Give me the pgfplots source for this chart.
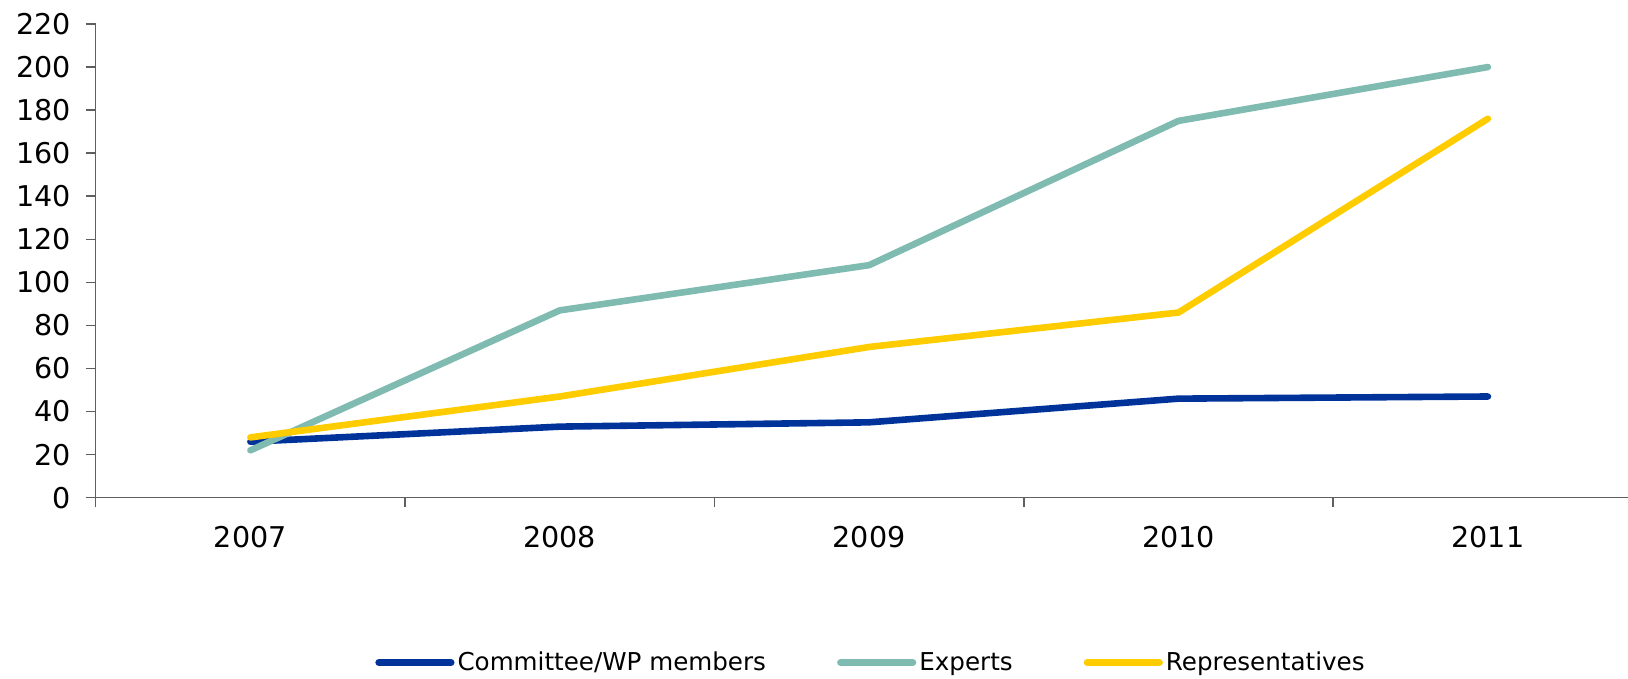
\documentclass[border=0pt]{standalone}
\usepackage{fontspec}
\setmainfont{DejaVu Sans}
\usepackage{pgfplots}
\pgfplotsset{compat=1.18}
\definecolor{cblue}{RGB}{0,51,153}
\definecolor{cteal}{RGB}{127,187,176}
\definecolor{cyellow}{RGB}{255,204,0}
\definecolor{axgray}{RGB}{95,95,95}
\begin{document}
\begin{tikzpicture}
\useasboundingbox (0,0) rectangle (814pt,339.5pt);
\begin{axis}[
  at={(47.85pt,90.65pt)}, anchor=south west,
  scale only axis, width=766.15pt, height=236.85pt,
  xmin=-0.5, xmax=4.453, ymin=0, ymax=220,
  axis x line=bottom, axis y line=left,
  axis line style={-, axgray, line width=0.8pt},
  xtick={0,1,2,3,4}, xticklabels={2007,2008,2009,2010,2011},
  major x tick style={draw=none},
  minor xtick={-0.5,0.5,1.5,2.5,3.5},
  ytick={0,20,...,220},
  tick align=outside,
  tick style={axgray, line width=0.8pt},
  major tick length=5pt, minor tick length=4.5pt,
  /pgf/number format/assume math mode=true,
  ticklabel style={font=\fontsize{14.3}{16}\selectfont},
  xticklabel style={yshift=-6pt},
  yticklabel style={xshift=-4pt},
  legend columns=3,
  legend style={at={(0.5066,-0.348)}, anchor=center, draw=none, fill=none,
    font=\fontsize{12.3}{15}\selectfont,
    /tikz/every even column/.append style={column sep=33.5pt},
    /tikz/every odd column/.append style={column sep=-0.5pt}},
  legend image code/.code={\draw[#1, line width=3.6pt, line cap=round] (0pt,0pt) -- (36pt,0pt);},
  every axis plot/.append style={line width=3.3pt, line cap=round, line join=round},
]
\addplot[cblue] coordinates {(0,26) (1,33) (2,35) (3,46) (4,47)};
\addlegendentry{Committee/WP members}
\addplot[cteal] coordinates {(0,22) (1,87) (2,108) (3,175) (4,200)};
\addlegendentry{Experts}
\addplot[cyellow] coordinates {(0,28) (1,47) (2,70) (3,86) (4,176)};
\addlegendentry{Representatives}
\end{axis}
\end{tikzpicture}
\end{document}
